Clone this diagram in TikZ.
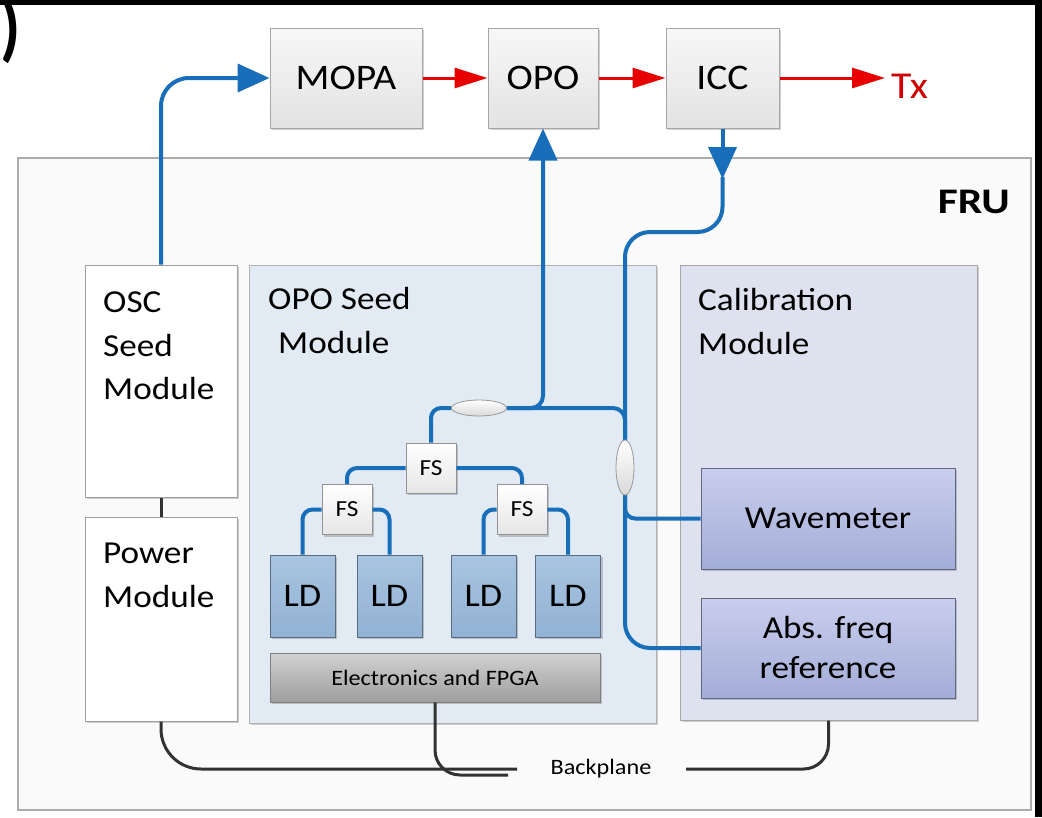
\documentclass[tikz,border=0pt]{standalone}
\usepackage{fontspec}
\setmainfont{Carlito}[FakeStretch=1.1]
\usetikzlibrary{shapes.geometric,arrows.meta,shadows}
\definecolor{fib}{RGB}{24,110,184}
\definecolor{lasr}{RGB}{232,0,0}
\definecolor{wirec}{RGB}{50,50,50}
\definecolor{seedbg}{RGB}{226,234,244}
\definecolor{calbg}{RGB}{222,226,239}
\definecolor{ldtop}{RGB}{168,196,224}
\definecolor{ldbot}{RGB}{146,178,212}
\definecolor{meastop}{RGB}{200,206,236}
\definecolor{measbot}{RGB}{164,173,216}
\newcommand\myfs[1]{\fontsize{#1}{#1}\selectfont}
\tikzset{
  box/.style={rectangle, inner sep=0pt, anchor=center},
  shad/.style={drop shadow={shadow xshift=2pt, shadow yshift=-2pt, opacity=0.18, fill=black}},
  topbox/.style={box, shad, draw=gray!70, line width=1pt, top color=black!3, bottom color=black!11, font=\myfs{36}},
  modbox/.style={box, shad, draw=gray!75, line width=1pt, fill=white},
  seedbox/.style={box, shad, draw=gray!60, line width=1pt, fill=seedbg},
  calbox/.style={box, shad, draw=gray!70, line width=1pt, fill=calbg},
  ldbox/.style={box, shad, draw=ldbot!60!black, line width=0.8pt, top color=ldtop, bottom color=ldbot, font=\myfs{33}},
  fsbox/.style={box, shad, draw=gray!85, line width=0.8pt, top color=white, bottom color=black!10, font=\myfs{23}},
  elbox/.style={box, shad, draw=gray, line width=0.8pt, top color=black!18, bottom color=black!38, font=\myfs{22}},
  measbox/.style={box, shad, draw=measbot!60!black, line width=0.8pt, top color=meastop, bottom color=measbot, font=\myfs{32}},
  coupler/.style={ellipse, inner sep=0pt, draw=gray!80, line width=0.8pt, top color=white, bottom color=black!15},
  modlabel/.style={anchor=base west, inner sep=0pt, font=\myfs{32}},
  fiber/.style={draw=fib, line width=4pt},
  fibarrow/.style={fiber, -{Triangle[length=32pt, width=28pt]}},
  laser/.style={draw=lasr, line width=3pt, -{Triangle[length=33pt, width=20pt]}},
  elwire/.style={draw=wirec, line width=3pt}
}
\begin{document}
\begin{tikzpicture}[x=1pt,y=-1pt]
\useasboundingbox (0,0) rectangle (1042,817);
\fill[white] (0,0) rectangle (1042,817);
\node[anchor=west, inner sep=0pt, font=\bfseries\myfs{74}] (paren) at (0,31) {\scalebox{0.8}[1]{)}};
% frame remnants
\fill[black] (0,0) rectangle (1042,5);
\fill[black] (1035,0) rectangle (1042,817);

% FRU
\node[box, draw=gray!65, line width=1.2pt, fill=black!2, minimum width=1013pt, minimum height=652pt] (fru) at (524.5,484) {};
\node[anchor=base east, inner sep=0pt, font=\bfseries\myfs{36}] (frulbl) at (1010,213) {\scalebox{1.1}[1]{FRU}};

% top chain
\node[topbox, minimum width=152pt, minimum height=100pt] (mopa) at (346,78) {MOPA};
\node[topbox, minimum width=110pt, minimum height=100pt] (opo) at (543,78) {OPO};
\node[topbox, minimum width=113pt, minimum height=100pt] (icc) at (722.5,78) {ICC};
\node[anchor=base west, inner sep=0pt, text=lasr!90!black, font=\myfs{38}] (tx) at (891,98) {Tx};
\draw[laser] (mopa.east) -- (opo.west);
\draw[laser] (opo.east) -- (icc.west);
\draw[laser, shorten >=6pt] (icc.east) -- (icc.east -| tx.west);

% modules
\node[modbox, minimum width=152pt, minimum height=232pt] (osc) at (161,381) {};
\node[modlabel] (osc1) at (103,312) {OSC};
\node[modlabel] (osc2) at (103,356) {Seed};
\node[modlabel] (osc3) at (103,399) {Module};
\node[modbox, minimum width=152pt, minimum height=204pt] (pwr) at (161,619) {};
\node[modlabel] (pwr1) at (103,563) {Power};
\node[modlabel] (pwr2) at (103,607) {Module};
\node[seedbox, minimum width=407pt, minimum height=458pt] (seed) at (452.5,494) {};
\node[modlabel] (seed1) at (268,309) {OPO Seed};
\node[modlabel] (seed2) at (278,353) {Module};
\node[calbox, minimum width=297pt, minimum height=455pt] (cal) at (828.5,492.5) {};
\node[modlabel] (cal1) at (698,310) {Calibration};
\node[modlabel] (cal2) at (698,354) {Module};

% measurement boxes
\node[measbox, minimum width=254pt, minimum height=101pt] (wav) at (828,518.5) {Wavemeter};
\node[measbox, minimum width=254pt, minimum height=100pt] (abs) at (828,648) {};
\node[anchor=base, inner sep=0pt, font=\myfs{32}] (abs1) at (828,638) {Abs. freq};
\node[anchor=base, inner sep=0pt, font=\myfs{32}] (abs2) at (828,678) {reference};

% seed internals
\node[ldbox, minimum width=65pt, minimum height=82pt] (ld1) at (302.5,596) {LD};
\node[ldbox, minimum width=65pt, minimum height=82pt] (ld2) at (389.5,596) {LD};
\node[ldbox, minimum width=65pt, minimum height=82pt] (ld3) at (483.5,596) {LD};
\node[ldbox, minimum width=65pt, minimum height=82pt] (ld4) at (568,596) {LD};
\node[elbox, minimum width=330pt, minimum height=49pt] (elec) at (435,677.5) {Electronics and FPGA};
\node[fsbox, minimum width=50pt, minimum height=50pt] (fst) at (431,468) {FS};
\node[fsbox, minimum width=50pt, minimum height=50pt] (fsl) at (347,509.5) {FS};
\node[fsbox, minimum width=50pt, minimum height=50pt] (fsr) at (522,509.5) {FS};
\node[coupler, minimum width=55pt, minimum height=16pt] (c1) at (479,408) {};
\node[coupler, minimum width=18pt, minimum height=55pt] (c2) at (625,467.5) {};

% fibers
\draw[fibarrow, rounded corners=28pt] (osc.north) |- (mopa.west);
\draw[fiber, rounded corners=10pt] (fsl.west) -| (ld1.north);
\draw[fiber, rounded corners=10pt] (fsl.east) -| (ld2.north);
\draw[fiber, rounded corners=10pt] (fsr.west) -| (ld3.north);
\draw[fiber, rounded corners=10pt] (fsr.east) -| (ld4.north);
\draw[fiber, rounded corners=10pt] (fst.west) -| (fsl.north);
\draw[fiber, rounded corners=10pt] (fst.east) -| (fsr.north);
\draw[fiber, rounded corners=10pt] (fst.north) |- (c1.west);
\draw[fibarrow, rounded corners=12pt] (c1.east) -| (opo.south);
\draw[fiber, rounded corners=12pt] (c1.east) -| (c2.north);
\coordinate (iccin) at (722.5,177);
\draw[fibarrow, shorten >=-2pt] (icc.south) -- (iccin);
\draw[fiber, rounded corners=25pt] (iccin) -- (722.5,232) -- (625,232) -- (c2.north);
\draw[fiber, rounded corners=10pt] (c2.south) |- (wav.west);
\draw[fiber, rounded corners=25pt] (c2.south) |- (abs.west);

% electrical wires
\draw[elwire] (osc.south) -- (pwr.north);
\coordinate (bp1) at (517,769);
\coordinate (bp2) at (508,775);
\coordinate (bp3) at (686,769);
\draw[elwire, rounded corners=40pt] (pwr.south) |- (bp1);
\draw[elwire, rounded corners=25pt] (elec.south) |- (bp2);
\draw[elwire, rounded corners=25pt] (cal.south) |- (bp3);
\node[inner sep=0pt, font=\myfs{22}] (bplbl) at (601,769) {Backplane};
\end{tikzpicture}
\end{document}
